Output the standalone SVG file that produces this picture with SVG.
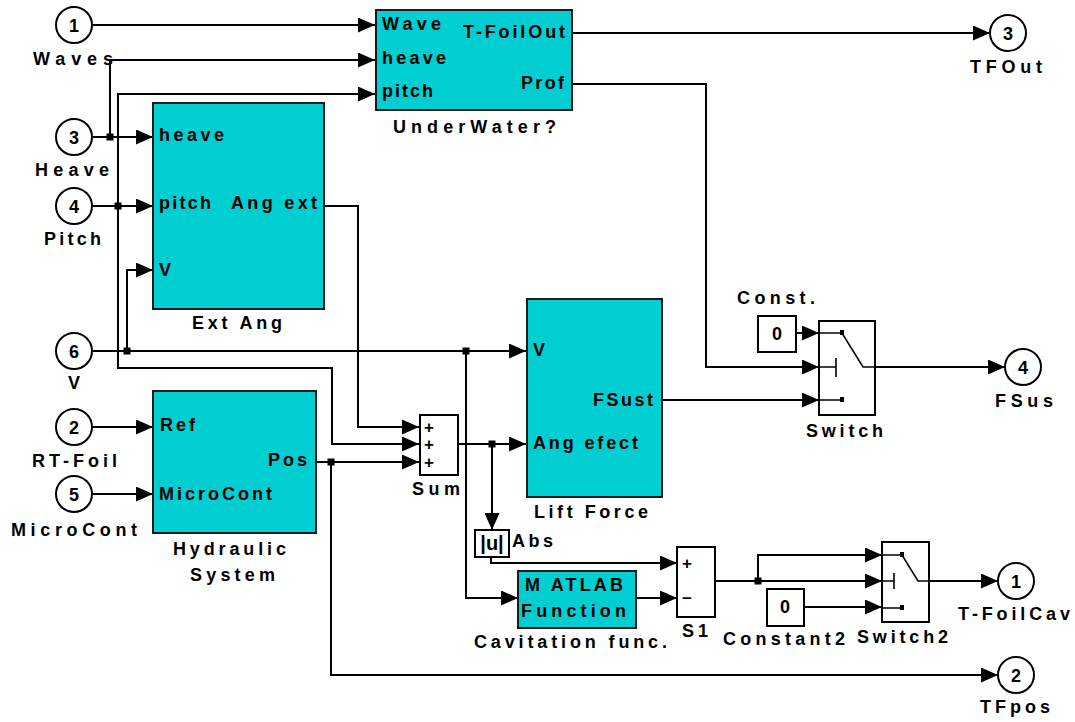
<svg xmlns="http://www.w3.org/2000/svg" width="1075" height="722" viewBox="0 0 1075 722">
<style>
.blk{fill:#00CED1;stroke:#1a1a1a;stroke-width:2}
.wb{fill:#fff;stroke:#000;stroke-width:2}
.ln{fill:none;stroke:#000;stroke-width:2}
.ic{fill:none;stroke:#000;stroke-width:1.6}
.t{font-family:"Liberation Sans",Arial,sans-serif;font-weight:bold;font-size:18px;fill:#000}
.m{text-anchor:middle}
.s{font-size:17px}
</style>
<defs>
<marker id="a" markerWidth="17" markerHeight="15" refX="17" refY="7.5" orient="auto" markerUnits="userSpaceOnUse"><path d="M0,0L17,7.5L0,15z" fill="#000"/></marker>
</defs>
<rect width="1075" height="722" fill="#fff"/>
<g id="connectors">
<path class="ln" marker-end="url(#a)" d="M92,25H375"/>
<path class="ln" marker-end="url(#a)" d="M92,137H153"/>
<path class="ln" marker-end="url(#a)" d="M110,137V60H375"/>
<path class="ln" marker-end="url(#a)" d="M92,206H153"/>
<path class="ln" marker-end="url(#a)" d="M118,206V94H375"/>
<path class="ln" marker-end="url(#a)" d="M118,206V368H332V444H419"/>
<path class="ln" marker-end="url(#a)" d="M92,351H526"/>
<path class="ln" marker-end="url(#a)" d="M127,351V270H153"/>
<path class="ln" marker-end="url(#a)" d="M466,351V598H518"/>
<path class="ln" marker-end="url(#a)" d="M324,206H358V427H419"/>
<path class="ln" marker-end="url(#a)" d="M92,427H153"/>
<path class="ln" marker-end="url(#a)" d="M92,494H153"/>
<path class="ln" marker-end="url(#a)" d="M316,462H419"/>
<path class="ln" marker-end="url(#a)" d="M331,462V675H998"/>
<path class="ln" marker-end="url(#a)" d="M458,444H526"/>
<path class="ln" marker-end="url(#a)" d="M492,444V530"/>
<path class="ln" marker-end="url(#a)" d="M491,557V563H677"/>
<path class="ln" marker-end="url(#a)" d="M636,598H677"/>
<path class="ln" marker-end="url(#a)" d="M715,581H882"/>
<path class="ln" marker-end="url(#a)" d="M758,581V555H882"/>
<path class="ln" marker-end="url(#a)" d="M804,607H882"/>
<path class="ln" marker-end="url(#a)" d="M929,581H998"/>
<path class="ln" marker-end="url(#a)" d="M572,33H990"/>
<path class="ln" marker-end="url(#a)" d="M572,84H706V367H819"/>
<path class="ln" marker-end="url(#a)" d="M796,333H819"/>
<path class="ln" marker-end="url(#a)" d="M662,400H819"/>
<path class="ln" marker-end="url(#a)" d="M875,367H1005"/>
<g fill="#000">
<rect x="106.5" y="133.5" width="7" height="7"/>
<rect x="114.5" y="202.5" width="7" height="7"/>
<rect x="123.5" y="347.5" width="7" height="7"/>
<rect x="462.5" y="347.5" width="7" height="7"/>
<rect x="327.5" y="458.5" width="7" height="7"/>
<rect x="488.5" y="440.5" width="7" height="7"/>
<rect x="754.5" y="577.5" width="7" height="7"/>
</g>
</g>
<g id="in1"><circle cx="74" cy="25" r="18" class="wb"/><text class="t m" x="74" y="31.5">1</text><text class="t" x="33" y="65" textLength="80" lengthAdjust="spacing">Waves</text></g>
<g id="in3"><circle cx="74" cy="137" r="18" class="wb"/><text class="t m" x="74" y="143.5">3</text><text class="t" x="35" y="176" textLength="74" lengthAdjust="spacing">Heave</text></g>
<g id="in4"><circle cx="74" cy="206" r="18" class="wb"/><text class="t m" x="74" y="212.5">4</text><text class="t" x="44" y="245" textLength="57" lengthAdjust="spacing">Pitch</text></g>
<g id="in6"><circle cx="74" cy="351" r="18" class="wb"/><text class="t m" x="74" y="357.5">6</text><text class="t m" x="74" y="389">V</text></g>
<g id="in2"><circle cx="74" cy="427" r="18" class="wb"/><text class="t m" x="74" y="433.5">2</text><text class="t" x="32" y="467" textLength="85" lengthAdjust="spacing">RT-Foil</text></g>
<g id="in5"><circle cx="74" cy="494" r="18" class="wb"/><text class="t m" x="74" y="500.5">5</text><text class="t" x="11" y="536" textLength="126" lengthAdjust="spacing">MicroCont</text></g>
<g id="underwater">
<rect class="blk" x="376" y="10" width="196" height="100"/>
<text class="t" x="382" y="30" textLength="59" lengthAdjust="spacing">Wave</text>
<text class="t" x="382" y="64" textLength="64" lengthAdjust="spacing">heave</text>
<text class="t" x="382" y="97" textLength="51" lengthAdjust="spacing">pitch</text>
<text class="t" x="463" y="38" textLength="102" lengthAdjust="spacing">T-FoilOut</text>
<text class="t" x="521" y="89" textLength="43" lengthAdjust="spacing">Prof</text>
<text class="t" x="393" y="133" textLength="163" lengthAdjust="spacing">UnderWater?</text>
</g>
<g id="extang">
<rect class="blk" x="153" y="103" width="171" height="206"/>
<text class="t" x="159" y="141" textLength="65" lengthAdjust="spacing">heave</text>
<text class="t" x="159" y="209" textLength="52" lengthAdjust="spacing">pitch</text>
<text class="t" x="231" y="209" textLength="86" lengthAdjust="spacing">Ang ext</text>
<text class="t" x="159" y="276">V</text>
<text class="t" x="192" y="329" textLength="90" lengthAdjust="spacing">Ext Ang</text>
</g>
<g id="hydraulic">
<rect class="blk" x="153" y="391" width="163" height="142"/>
<text class="t" x="160" y="431" textLength="35" lengthAdjust="spacing">Ref</text>
<text class="t" x="268" y="466" textLength="39" lengthAdjust="spacing">Pos</text>
<text class="t" x="159" y="500" textLength="113" lengthAdjust="spacing">MicroCont</text>
<text class="t" x="173" y="555" textLength="113" lengthAdjust="spacing">Hydraulic</text>
<text class="t" x="190" y="581" textLength="85" lengthAdjust="spacing">System</text>
</g>
<g id="sum">
<rect class="wb" x="420" y="415" width="38" height="60"/>
<text class="t m s" x="429" y="433">+</text>
<text class="t m s" x="429" y="450">+</text>
<text class="t m s" x="429" y="468">+</text>
<text class="t" x="412" y="495" textLength="48" lengthAdjust="spacing">Sum</text>
</g>
<g id="liftforce">
<rect class="blk" x="527" y="299" width="135" height="198"/>
<text class="t" x="533" y="356">V</text>
<text class="t" x="593" y="406" textLength="60" lengthAdjust="spacing">FSust</text>
<text class="t" x="533" y="449" textLength="105" lengthAdjust="spacing">Ang efect</text>
<text class="t" x="534" y="518" textLength="114" lengthAdjust="spacing">Lift Force</text>
</g>
<g id="abs">
<rect class="wb" x="475" y="530" width="34" height="27"/>
<text class="t m" x="492" y="550" style="font-size:20px">|u|</text>
<text class="t" x="512" y="547" textLength="41" lengthAdjust="spacing">Abs</text>
</g>
<g id="matlab">
<rect class="blk" x="518" y="571" width="118" height="57"/>
<text class="t" x="525" y="591" textLength="98" lengthAdjust="spacing">M ATLAB</text>
<text class="t" x="521" y="617" textLength="105" lengthAdjust="spacing">Function</text>
<text class="t" x="474" y="648" textLength="193" lengthAdjust="spacing">Cavitation func.</text>
</g>
<g id="s1">
<rect class="wb" x="677" y="547" width="38" height="70"/>
<text class="t m s" x="687" y="569">+</text>
<text class="t m s" x="687" y="604">−</text>
<text class="t" x="682" y="637" textLength="26" lengthAdjust="spacing">S1</text>
</g>
<g id="const">
<rect class="wb" x="758" y="316" width="38" height="36"/>
<text class="t m" x="777" y="340">0</text>
<text class="t" x="737" y="304" textLength="78" lengthAdjust="spacing">Const.</text>
</g>
<g id="switch">
<rect class="wb" x="819" y="321" width="56" height="94"/>
<path class="ic" d="M819,333H842L863,367H875M819,367H836M836,358V377M819,400H842"/>
<rect x="840" y="330" width="4" height="5"/>
<rect x="840" y="397" width="4" height="5"/>
<text class="t" x="806" y="437" textLength="77" lengthAdjust="spacing">Switch</text>
</g>
<g id="out4"><circle cx="1023" cy="367" r="18" class="wb"/><text class="t m" x="1023" y="373.5">4</text><text class="t" x="995" y="407" textLength="58" lengthAdjust="spacing">FSus</text></g>
<g id="out3"><circle cx="1008" cy="33" r="18" class="wb"/><text class="t m" x="1008" y="39.5">3</text><text class="t" x="970" y="73" textLength="72" lengthAdjust="spacing">TFOut</text></g>
<g id="constant2">
<rect class="wb" x="767" y="589" width="37" height="37"/>
<text class="t m" x="785" y="613">0</text>
<text class="t" x="723" y="645" textLength="122" lengthAdjust="spacing">Constant2</text>
</g>
<g id="switch2">
<rect class="wb" x="882" y="542" width="47" height="80"/>
<path class="ic" d="M882,555H902L918,581H929M882,581H894M894,573V589M882,608H902"/>
<rect x="900" y="552" width="4" height="5"/>
<rect x="900" y="605" width="4" height="5"/>
<text class="t" x="857" y="643" textLength="91" lengthAdjust="spacing">Switch2</text>
</g>
<g id="out1"><circle cx="1016" cy="581" r="18" class="wb"/><text class="t m" x="1016" y="587.5">1</text><text class="t" x="958" y="620" textLength="112" lengthAdjust="spacing">T-FoilCav</text></g>
<g id="out2"><circle cx="1016" cy="675" r="18" class="wb"/><text class="t m" x="1016" y="681.5">2</text><text class="t" x="980" y="713" textLength="70" lengthAdjust="spacing">TFpos</text></g>
</svg>
